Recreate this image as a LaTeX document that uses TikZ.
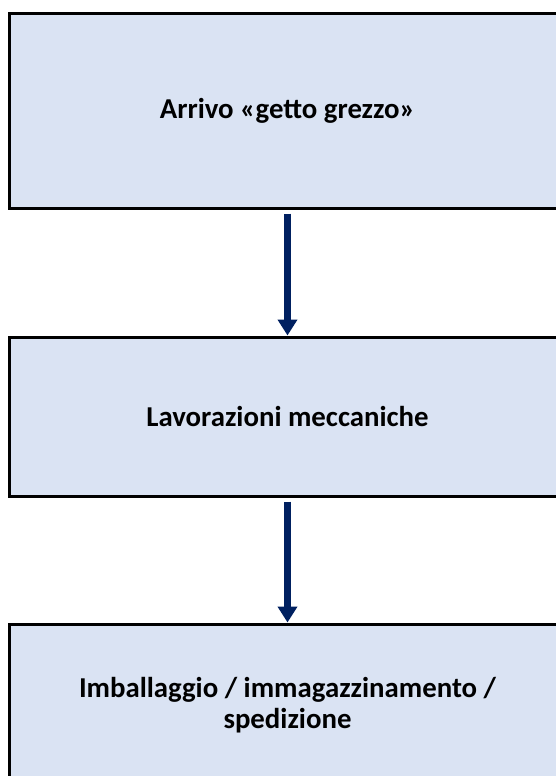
\documentclass[tikz,border=0pt]{standalone}
\usepackage{fontspec}
\setmainfont{Carlito}
\usepackage{tikz}
\usetikzlibrary{positioning,shapes,arrows.meta,calc}
\definecolor{lightblue}{RGB}{218, 227, 243}
\definecolor{darknavy}{RGB}{0, 32, 96}

\begin{document}
\begin{tikzpicture}[x=1pt, y=1pt, node distance=305.5pt,
step box/.style ={rectangle, draw=black, line width=3pt, fill=lightblue, text centered, minimum width=557pt, font=\fontsize{28.8}{30.5}\selectfont\bfseries},
flow/.style ={-{Triangle[width=19pt,length=16pt]}, line width=7pt, draw=darknavy, shorten <=4pt},
]

\useasboundingbox (0,0) rectangle (556,-776);
\clip (0,0) rectangle (556,-776);

\node (ARRIVO) [step box, minimum height=194pt] at (287.5,-111) {Arrivo «getto grezzo»};
\node (LAVOR) [step box, below of=ARRIVO, minimum height=159pt] {Lavorazioni meccaniche};
\node (IMBAL) [step box, below of=LAVOR, node distance=288.5pt, minimum height=162pt, align=center] {Imballaggio / immagazzinamento /\\spedizione};

\draw[flow] (ARRIVO.south) -- (LAVOR.north);
\draw[flow] (LAVOR.south) -- (IMBAL.north);

\end{tikzpicture}
\end{document}
